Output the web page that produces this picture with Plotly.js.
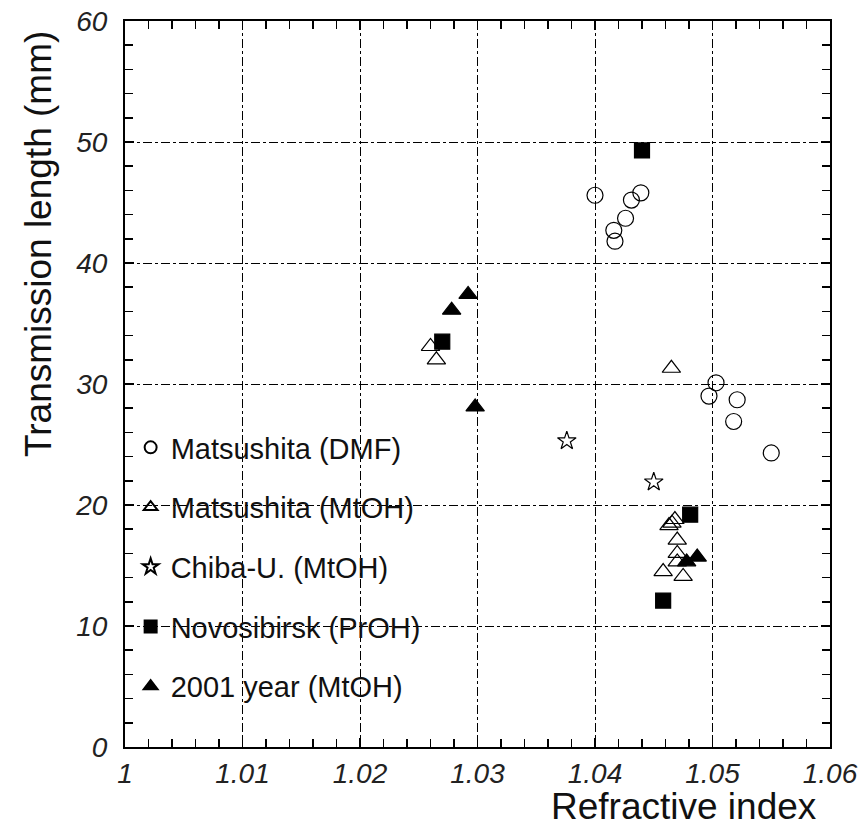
<!DOCTYPE html>
<html>
<head>
<meta charset="utf-8">
<script src="https://cdn.plot.ly/plotly-3.0.1.min.js"></script>
<style>html,body{margin:0;padding:0;background:#fff;}#chart{width:866px;height:830px;}</style>
</head>
<body>
<div id="chart"></div>
<script>
// Series data (refractive index, transmission length in mm)
const dmfName = "Matsushita (DMF)";
const dmfX = [1.0400, 1.0431, 1.0439, 1.0426, 1.0416, 1.0417, 1.0503, 1.0497, 1.0521, 1.0518, 1.0550];
const dmfY = [45.6, 45.2, 45.8, 43.7, 42.7, 41.8, 30.1, 29.0, 28.7, 26.9, 24.3];

const mtohName = "Matsushita (MtOH)";
const mtohX = [1.0260, 1.0265, 1.0465, 1.0463, 1.04655, 1.0468, 1.0470, 1.0470, 1.0470, 1.0458, 1.0475];
const mtohY = [33.1, 32.0, 31.3, 18.3, 18.5, 18.8, 17.1, 16.0, 15.3, 14.5, 14.1];

const chibaName = "Chiba-U. (MtOH)";
const chibaX = [1.0376, 1.0450];
const chibaY = [25.3, 21.9];

const novoName = "Novosibirsk (PrOH)";
const novoX = [1.0270, 1.0440, 1.0481, 1.0458];
const novoY = [33.5, 49.3, 19.2, 12.1];

const y2001Name = "2001 year (MtOH)";
const y2001X = [1.0278, 1.0292, 1.0298, 1.0478, 1.0487];
const y2001Y = [36.1, 37.4, 28.1, 15.3, 15.7];

const xTitle = "Refractive index";
const yTitle = "Transmission length (mm)";

const ink = "#000";
function tr(name, x, y, symbol, size, group) {
  return {
    type: "scatter", mode: "markers", name: name, x: x, y: y,
    legendgroup: group,
    marker: {symbol: symbol, size: size, color: ink, line: {color: ink, width: 1.2}},
    cliponaxis: false
  };
}

const data = [
  tr(dmfName, dmfX, dmfY, "circle-open", 16, "g1"),
  tr(mtohName, mtohX, mtohY, "triangle-up-open", 16, "g2"),
  tr(chibaName, chibaX, chibaY, "star-open", 14, "g3"),
  tr(novoName, novoX, novoY, "square", 15, "g4"),
  tr(y2001Name, y2001X, y2001Y, "triangle-up", 16, "g5")
];

const tickFont = {family: "Liberation Sans, Arial, sans-serif", size: 28, color: "#222", style: "italic"};

const layout = {
  width: 866, height: 830,
  margin: {l: 125, r: 36, t: 21, b: 83},
  paper_bgcolor: "#fff", plot_bgcolor: "#fff",
  showlegend: true,
  legend: {
    x: 0.008, y: (747 - 422) / 726, xanchor: "left", yanchor: "top",
    bgcolor: "rgba(0,0,0,0)", borderwidth: 0,
    font: {family: "Liberation Sans, Arial, sans-serif", size: 29, color: "#111"},
    tracegroupgap: 19, itemsizing: "constant"
  },
  xaxis: {
    range: [1.0, 1.06], tick0: 1.0, dtick: 0.01,
    showgrid: true, gridcolor: ink, gridwidth: 1, griddash: "dashdot",
    zeroline: false, showline: true, linecolor: ink, linewidth: 2, mirror: "allticks",
    ticks: "inside", ticklen: 9, tickcolor: ink, tickwidth: 1.5,
    minor: {dtick: 0.002, ticks: "inside", ticklen: 8, tickcolor: ink, tickwidth: 1.5, showgrid: false},
    tickfont: tickFont, ticklabelstandoff: 0
  },
  yaxis: {
    range: [0, 60], tick0: 0, dtick: 10,
    showgrid: true, gridcolor: ink, gridwidth: 1, griddash: "dashdot",
    zeroline: false, showline: true, linecolor: ink, linewidth: 2, mirror: "allticks",
    ticks: "inside", ticklen: 9, tickcolor: ink, tickwidth: 1.5,
    minor: {dtick: 2, ticks: "inside", ticklen: 8, tickcolor: ink, tickwidth: 1.5, showgrid: false},
    tickfont: tickFont, ticklabelstandoff: 10
  },
  annotations: [
    {text: yTitle, xref: "paper", yref: "paper", x: (38 - 125) / 705, y: (747 - 244) / 726,
     xanchor: "center", yanchor: "middle", textangle: -90, showarrow: false,
     font: {family: "Liberation Sans, Arial, sans-serif", size: 37, color: "#111"}},
    {text: xTitle, xref: "paper", yref: "paper", x: (684 - 125) / 705, y: (747 - 806) / 726,
     xanchor: "center", yanchor: "middle", showarrow: false,
     font: {family: "Liberation Sans, Arial, sans-serif", size: 37, color: "#111"}}
  ]
};

Plotly.newPlot("chart", data, layout, {displayModeBar: false, staticPlot: true});
</script>
</body>
</html>
